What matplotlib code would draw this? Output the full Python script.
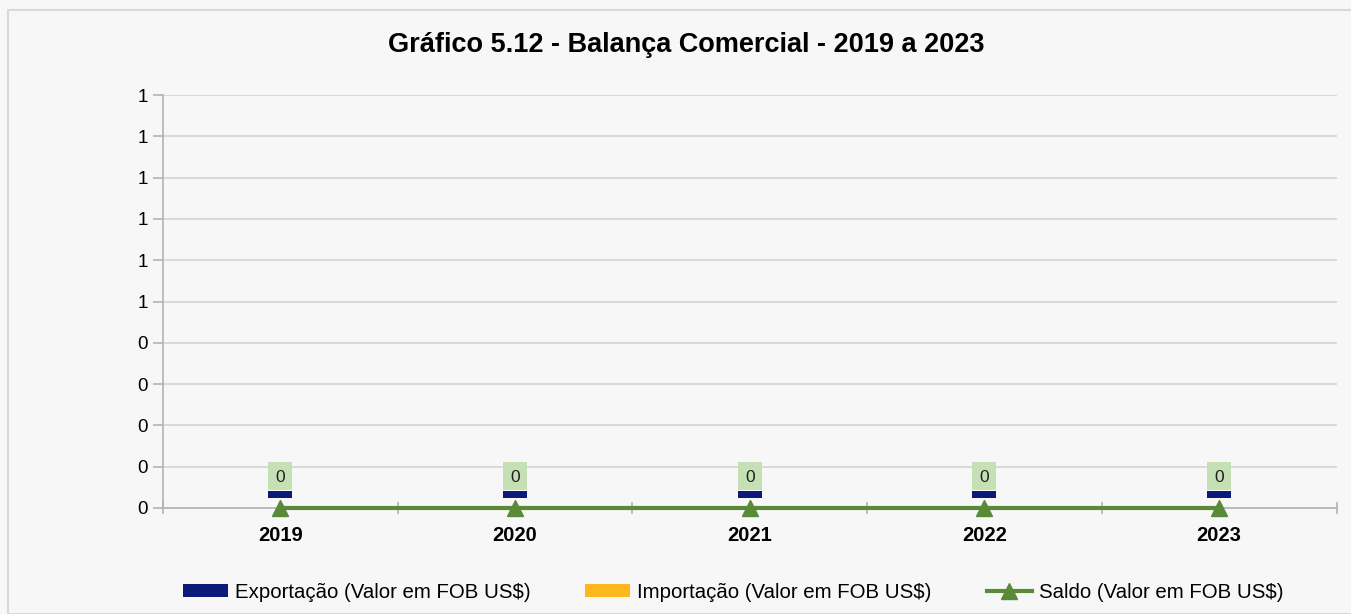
import numpy as np
import matplotlib.pyplot as plt
from matplotlib.path import Path
from matplotlib.patches import Rectangle

plt.rcParams['font.family'] = ['Liberation Sans', 'DejaVu Sans']

# dados
anos = ['2019', '2020', '2021', '2022', '2023']
exportacao = [0, 0, 0, 0, 0]
importacao = [0, 0, 0, 0, 0]
saldo = [0, 0, 0, 0, 0]
y_ticks = [0, 0.1, 0.2, 0.3, 0.4, 0.5, 0.6, 0.7, 0.8, 0.9, 1.0]
y_labels = ['0', '0', '0', '0', '0', '1', '1', '1', '1', '1', '1']

c_exp = '#0b1a78'
c_imp = '#ffb71e'
c_saldo = '#5a8a38'
c_label = '#c5e0b4'
bg = '#f7f7f7'

fig = plt.figure(figsize=(13.51, 6.14), dpi=100, facecolor=bg)
# moldura
fig.patches.append(Rectangle((8/1351, 0), 1.0, 1 - 10/614, transform=fig.transFigure,
                             fill=False, edgecolor='#d9d9d9', linewidth=1.5))

ax = fig.add_axes([163/1351, 106/614, 1173.5/1351, 413/614])
ax.set_facecolor(bg)
x = np.arange(len(anos))

b1 = ax.bar(x, exportacao, width=0.1, color=c_exp, label='Exportação (Valor em FOB US$)')
b2 = ax.bar(x, importacao, width=0.1, color=c_imp, label='Importação (Valor em FOB US$)')

# marcas de valor zero (barra mínima + rótulo), em pixels acima do ponto
box = Path([(-12.5, 18), (12.5, 18), (12.5, 46), (-12.5, 46), (-12.5, 18)],
           [Path.MOVETO, Path.LINETO, Path.LINETO, Path.LINETO, Path.CLOSEPOLY])
stub = Path([(-12, 10), (12, 10), (12, 17.5), (-12, 17.5), (-12, 10)],
            [Path.MOVETO, Path.LINETO, Path.LINETO, Path.LINETO, Path.CLOSEPOLY])
ax.plot(x, exportacao, ls='none', marker=box, markersize=2*46*0.72,
        markerfacecolor=c_label, markeredgewidth=0, zorder=4)
ax.plot(x, exportacao, ls='none', marker=stub, markersize=2*17.5*0.72,
        markerfacecolor=c_exp, markeredgewidth=0, zorder=4)
for xi, v in zip(x, exportacao):
    ax.annotate(f'{v:.0f}', (xi, v), xytext=(0, 31), textcoords='offset pixels',
                ha='center', va='center', fontsize=12.5, color='#222222', zorder=5)

l1, = ax.plot(x, saldo, color=c_saldo, linewidth=3, marker='^', markersize=12,
              label='Saldo (Valor em FOB US$)', zorder=6, clip_on=False)

ax.set_xlim(-0.5, len(anos) - 0.5)
ax.set_ylim(0, 1)
ax.set_yticks(y_ticks)
ax.set_yticklabels(y_labels, fontsize=13.5)
ax.set_xticks(x)
ax.set_xticklabels(anos, fontsize=14.5, fontweight='bold')
ax.set_xticks(np.arange(-0.5, len(anos)), minor=True)
ax.tick_params(axis='x', which='major', length=0, pad=13)
ax.tick_params(axis='x', which='minor', length=8, direction='inout', color='#b3b3b3', width=1.2)
ax.tick_params(axis='y', length=7, color='#b3b3b3', width=1.2, pad=4)
ax.grid(axis='y', color='#d4d4d4', linewidth=1.2)
ax.set_axisbelow(True)
for s in ['top', 'right']:
    ax.spines[s].set_visible(False)
for s in ['left', 'bottom']:
    ax.spines[s].set_color('#b3b3b3')
    ax.spines[s].set_linewidth(1.2)

fig.text(0.508, 1 - 45/614, 'Gráfico 5.12 - Balança Comercial - 2019 a 2023',
         ha='center', va='center', fontsize=19.5, fontweight='bold')

fig.legend(handles=[b1, b2, l1], loc='center', bbox_to_anchor=(0.5426, 1 - 592/614),
           ncol=3, frameon=False, fontsize=14.7, handlelength=2.2, handleheight=0.6,
           columnspacing=2.7, handletextpad=0.35)

fig.savefig('out.png', dpi=100, facecolor=bg)
